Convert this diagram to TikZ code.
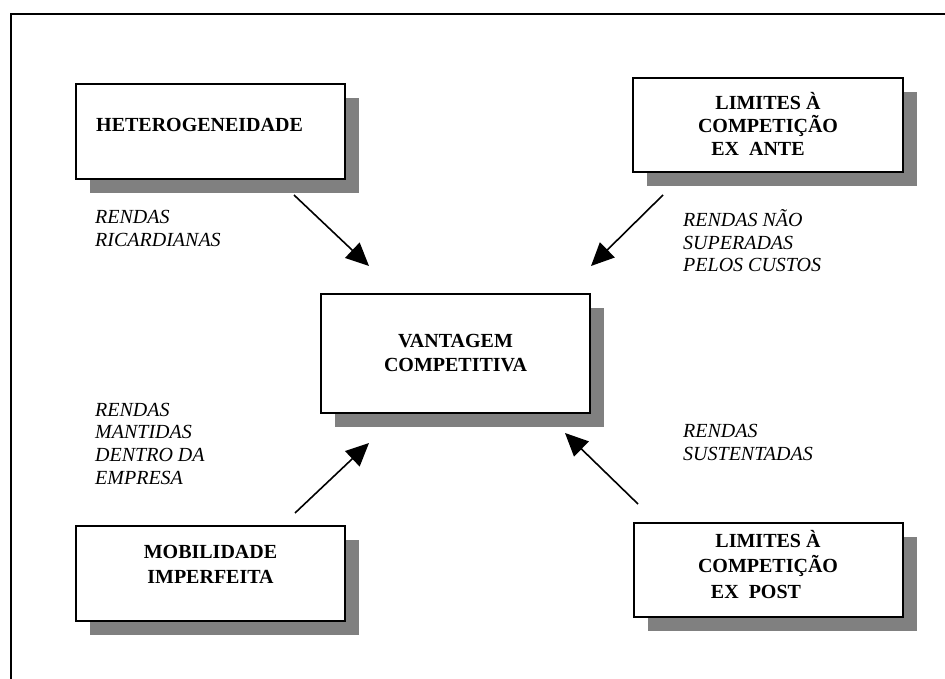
\documentclass[tikz,border=0pt]{standalone}
\usepackage{fontspec}
\setmainfont{Liberation Serif}
\usetikzlibrary{arrows.meta,shadows}
\definecolor{shadowgray}{HTML}{808080}

% stacked lines with a fixed baseline distance; the block's baseline is its first line
\newcommand\cblock[2]{\vtop{\baselineskip=#1\lineskiplimit=-100pt\relax\halign{\hfil##\hfil\cr#2\crcr}}}
\newcommand\lblock[2]{\vtop{\baselineskip=#1\lineskiplimit=-100pt\relax\halign{##\hfil\cr#2\crcr}}}

\tikzset{
  box/.style={draw, line width=1.6pt, fill=white, inner sep=0pt,
    drop shadow={shadow xshift=14pt, shadow yshift=-14pt, fill=shadowgray, opacity=1}},
  boxtext/.style={font=\bfseries\fontsize{20}{24}\selectfont, inner sep=0pt, anchor=base},
  rent/.style={font=\itshape\fontsize{20}{23}\selectfont, inner sep=0pt, anchor=base west},
  link/.style={line width=1.6pt, -{Triangle[length=23pt,width=21pt]}},
  frame/.style={line width=1.5pt}
}

\begin{document}
\begin{tikzpicture}[x=1pt,y=-1pt]
\useasboundingbox (0,0) rectangle (945,679);

% outer frame (top and left edges)
\coordinate (fbl) at (11,679);
\coordinate (ftl) at (11,14);
\coordinate (ftr) at (945,14);
\draw[frame] (fbl) -- (ftl) -- (ftr);

% boxes
\node[box, minimum width=269pt, minimum height=95pt]  (het)  at (210.5,131.5) {};
\node[box, minimum width=270pt, minimum height=94pt]  (ante) at (768,125) {};
\node[box, minimum width=269pt, minimum height=119pt] (vant) at (455.5,353.5) {};
\node[box, minimum width=269pt, minimum height=95pt]  (mob)  at (210.5,573.5) {};
\node[box, minimum width=269pt, minimum height=94pt]  (post) at (768.5,570) {};

% box titles
\node[boxtext, anchor=base west] (hettxt) at (96,131.5) {HETEROGENEIDADE};
\node[boxtext] (antetxt) at (768,110) {\cblock{22.8pt}{LIMITES À\cr COMPETIÇÃO\cr EX\ \ ANTE\kern20pt}};
\node[boxtext] (vanttxt) at (455.5,347) {\cblock{24.5pt}{VANTAGEM\cr COMPETITIVA}};
\node[boxtext] (mobtxt) at (210.5,558) {\cblock{25pt}{MOBILIDADE\cr IMPERFEITA}};
\node[boxtext] (posttxt) at (768,547) {\cblock{25.5pt}{LIMITES À\cr COMPETIÇÃO\cr EX\ \ POST\kern24pt}};

% rent labels
\node[rent] (r1) at (95,224) {\lblock{23pt}{RENDAS\cr RICARDIANAS}};
\node[rent] (r2) at (683,226.5) {\lblock{22.6pt}{RENDAS NÃO\cr SUPERADAS\cr PELOS CUSTOS}};
\node[rent] (r3) at (95,416) {\lblock{22.7pt}{RENDAS\cr MANTIDAS\cr DENTRO DA\cr EMPRESA}};
\node[rent] (r4) at (683,437) {\lblock{23pt}{RENDAS\cr SUSTENTADAS}};

% arrows towards the central box
\coordinate (a1s) at (294,195); \coordinate (a1e) at (369,266);
\coordinate (a2s) at (663,195); \coordinate (a2e) at (591,266);
\coordinate (a3s) at (295,513); \coordinate (a3e) at (369,443);
\coordinate (a4s) at (638,504); \coordinate (a4e) at (565,433);
\draw[link] (a1s) -- (a1e);
\draw[link] (a2s) -- (a2e);
\draw[link] (a3s) -- (a3e);
\draw[link] (a4s) -- (a4e);
\end{tikzpicture}
\end{document}
